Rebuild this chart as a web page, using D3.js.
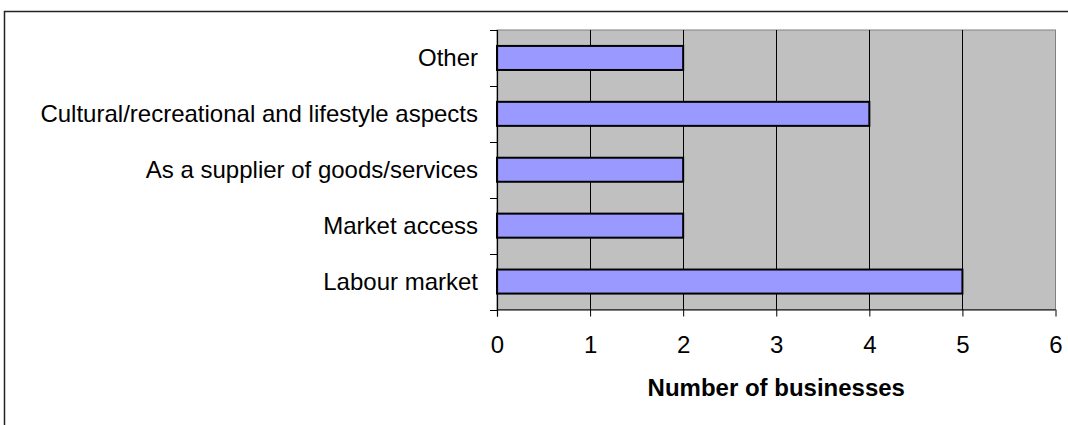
<!DOCTYPE html>
<html>
<head>
<meta charset="utf-8">
<script src="https://cdn.jsdelivr.net/npm/d3@7"></script>
<style>
  html, body { margin: 0; padding: 0; background: #fff; }
  svg { display: block; font-family: "Liberation Sans", Arial, sans-serif; }
</style>
</head>
<body>
<svg id="chart" width="1068" height="425"></svg>
<script>
// Reasons given, listed top to bottom
const categories = ["Other", "Cultural/recreational and lifestyle aspects", "As a supplier of goods/services", "Market access", "Labour market"];
const values = [2, 4, 2, 2, 5];
const xTicks = [0, 1, 2, 3, 4, 5, 6];
const xTitle = "Number of businesses";

const svg = d3.select("#chart");
const W = 1068, H = 425;
const FONT = 24;

// outer chart frame (runs past right and bottom edges)
svg.append("rect")
  .attr("x", 4.5).attr("y", 11.5)
  .attr("width", W + 10).attr("height", H + 10)
  .attr("fill", "#fff").attr("stroke", "#222").attr("stroke-width", 1.5);

const plot = { left: 497, right: 1055.5, top: 30, bottom: 309.5 };

const x = d3.scaleLinear().domain([0, 6]).range([plot.left, plot.right]);
const y = d3.scaleBand().domain(categories).range([plot.top, plot.bottom]).paddingInner(0.57).paddingOuter(0.285);
const yEdges = d3.scaleLinear().domain([0, categories.length]).range([plot.top, plot.bottom]);

// plot background
svg.append("rect")
  .attr("x", plot.left).attr("y", plot.top)
  .attr("width", plot.right - plot.left).attr("height", plot.bottom - plot.top)
  .attr("fill", "#c0c0c0").attr("stroke", "#808080").attr("stroke-width", 1);

// vertical gridlines
svg.append("g").selectAll("line")
  .data(xTicks.slice(1, -1))
  .join("line")
  .attr("x1", d => Math.round(x(d)) + 0.5).attr("x2", d => Math.round(x(d)) + 0.5)
  .attr("y1", plot.top).attr("y2", plot.bottom)
  .attr("stroke", "#000").attr("stroke-width", 1);

// bars
svg.append("g").selectAll("rect")
  .data(categories.map((c, i) => ({ c, v: values[i] })))
  .join("rect")
  .attr("x", x(0))
  .attr("y", d => y(d.c))
  .attr("width", d => x(d.v) - x(0))
  .attr("height", y.bandwidth())
  .attr("fill", "#9999ff")
  .attr("stroke", "#000").attr("stroke-width", 2);

// x axis
const xAxis = d3.axisBottom(x).tickValues(xTicks).tickSize(7).tickPadding(12).tickFormat(d3.format("d"));
const gx = svg.append("g").attr("transform", `translate(0,${plot.bottom})`).call(xAxis);
gx.select(".domain").attr("stroke", "#000").attr("stroke-width", 1.2).attr("d", `M${plot.left},0.5H${plot.right}`);
gx.selectAll(".tick line").attr("stroke", "#000");
gx.selectAll(".tick text")
  .attr("y", 35).attr("dy", "0.35em")
  .attr("font-size", FONT).attr("fill", "#000")
  .attr("font-family", "Liberation Sans, Arial, sans-serif");

// y axis: tick marks at band edges, labels at band centers
const gy = svg.append("g");
gy.append("line")
  .attr("x1", plot.left + 0.5).attr("x2", plot.left + 0.5)
  .attr("y1", plot.top).attr("y2", plot.bottom + 7)
  .attr("stroke", "#000").attr("stroke-width", 1.2);
gy.selectAll("line.edge")
  .data(d3.range(categories.length + 1))
  .join("line").attr("class", "edge")
  .attr("x1", plot.left - 7).attr("x2", plot.left)
  .attr("y1", d => Math.round(yEdges(d)) + 0.5).attr("y2", d => Math.round(yEdges(d)) + 0.5)
  .attr("stroke", "#000");
gy.selectAll("text")
  .data(categories)
  .join("text")
  .attr("x", 478)
  .attr("y", d => y(d) + y.bandwidth() / 2)
  .attr("dy", "0.35em")
  .attr("text-anchor", "end")
  .attr("font-size", FONT)
  .attr("fill", "#000")
  .text(d => d);

// axis title
svg.append("text")
  .attr("x", (plot.left + plot.right) / 2)
  .attr("y", 388)
  .attr("dy", "0.35em")
  .attr("text-anchor", "middle")
  .attr("font-size", FONT)
  .attr("font-weight", "bold")
  .attr("fill", "#000")
  .text(xTitle);
</script>
</body>
</html>
